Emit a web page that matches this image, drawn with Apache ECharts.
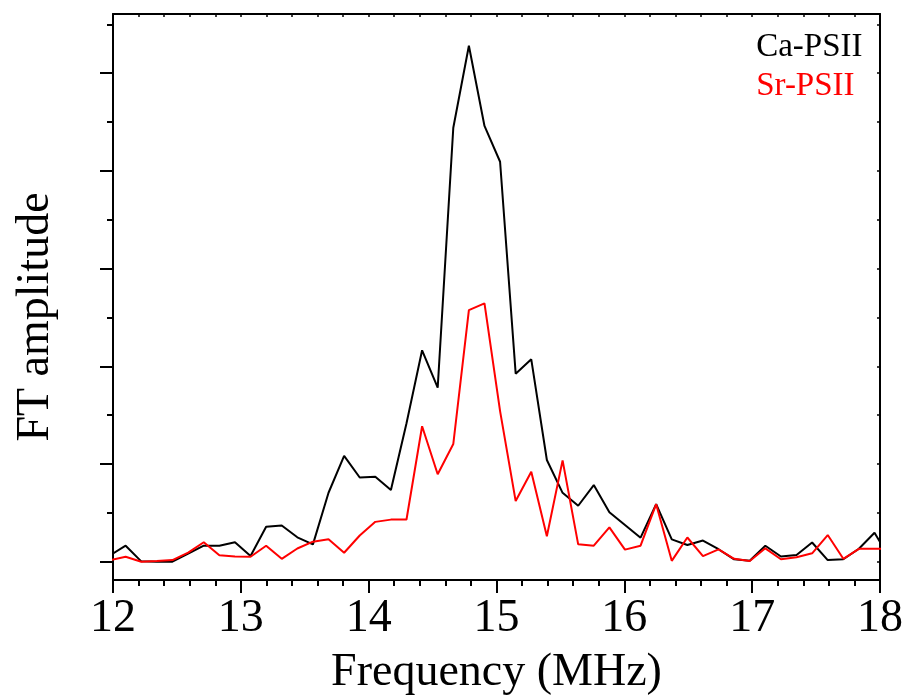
<!DOCTYPE html>
<html>
<head>
<meta charset="utf-8">
<script src="https://cdn.jsdelivr.net/npm/echarts@6/dist/echarts.min.js"></script>
<style>html,body{margin:0;padding:0;background:#fff;}#c{width:908px;height:697px;}</style>
</head>
<body>
<div id="c"></div>
<script>
// Frequency points (MHz)
const freq = [11.977, 12.099, 12.221, 12.343, 12.465, 12.588, 12.710, 12.832, 12.954, 13.076,
  13.198, 13.320, 13.442, 13.564, 13.686, 13.808, 13.930, 14.052, 14.174, 14.296,
  14.418, 14.540, 14.662, 14.784, 14.906, 15.028, 15.150, 15.272, 15.394, 15.517,
  15.639, 15.761, 15.883, 16.005, 16.127, 16.249, 16.371, 16.493, 16.615, 16.737,
  16.859, 16.981, 17.103, 17.225, 17.347, 17.469, 17.591, 17.713, 17.835, 17.957, 18.079];
// FT amplitude (arbitrary units)
const caPSII = [0.066, 0.164, 0.004, 0.000, 0.000, 0.082, 0.164, 0.164, 0.199, 0.058,
  0.358, 0.371, 0.250, 0.178, 0.706, 1.084, 0.862, 0.869, 0.734, 1.417,
  2.164, 1.781, 4.442, 5.281, 4.460, 4.094, 1.925, 2.072, 1.041, 0.705,
  0.573, 0.785, 0.506, 0.376, 0.246, 0.589, 0.229, 0.171, 0.217, 0.128,
  0.025, 0.010, 0.164, 0.053, 0.069, 0.197, 0.017, 0.025, 0.133, 0.297, 0.028];
const srPSII = [0.017, 0.051, 0.000, 0.007, 0.017, 0.094, 0.199, 0.067, 0.053, 0.051,
  0.164, 0.030, 0.135, 0.205, 0.229, 0.092, 0.268, 0.408, 0.431, 0.432,
  1.387, 0.896, 1.205, 2.576, 2.645, 1.542, 0.621, 0.921, 0.260, 1.037,
  0.178, 0.164, 0.352, 0.124, 0.164, 0.589, 0.009, 0.248, 0.058, 0.127,
  0.030, 0.007, 0.137, 0.025, 0.046, 0.086, 0.273, 0.030, 0.132, 0.133, 0.133];
const seriesNames = ['Ca-PSII', 'Sr-PSII'];
const xTickLabels = ['12', '13', '14', '15', '16', '17', '18'];
const yMajorTicks = [0, 1, 2, 3, 4, 5];
const yMinorTicks = [0.5, 1.5, 2.5, 3.5, 4.5, 5.5];
const yAllTicks = [0, 0.5, 1, 1.5, 2, 2.5, 3, 3.5, 4, 4.5, 5, 5.5];

const FONT = '"Liberation Serif", "Times New Roman", serif';
const Y_MIN = -0.187, Y_MAX = 5.606;
const lineStyleAxis = { color: '#000', width: 2 };

const chart = echarts.init(document.getElementById('c'), null, { renderer: 'canvas' });
chart.setOption({
  backgroundColor: '#fff',
  animation: false,
  grid: { left: 113, right: 28, top: 14, bottom: 117, containLabel: false, outerBoundsMode: 'none' },
  legend: {
    data: [
      { name: seriesNames[0], textStyle: { color: '#000' } },
      { name: seriesNames[1], textStyle: { color: '#ff0000' } }
    ],
    orient: 'vertical',
    left: 737, top: 31, padding: 0,
    itemWidth: 0, itemHeight: 33, itemGap: 6,
    itemStyle: { opacity: 0 }, lineStyle: { opacity: 0 },
    textStyle: { fontFamily: FONT, fontSize: 33 },
    selectedMode: false
  },
  xAxis: [
    {
      type: 'value', position: 'bottom', min: 12, max: 18, interval: 1,
      name: 'Frequency (MHz)', nameLocation: 'middle', nameGap: 70,
      nameTextStyle: { fontFamily: FONT, fontSize: 46, color: '#000' },
      axisLine: { show: true, onZero: false, lineStyle: lineStyleAxis },
      axisTick: { show: true, inside: false, length: 13, lineStyle: { color: '#000', width: 2 } },
      minorTick: { show: true, splitNumber: 5, length: 6, lineStyle: { color: '#000', width: 2 } },
      axisLabel: { show: true, margin: 16, fontFamily: FONT, fontSize: 46, color: '#000',
        formatter: function (v) { return xTickLabels[Math.round(v - 12)] || ''; } },
      splitLine: { show: false }
    },
    {
      type: 'value', position: 'top', min: 12, max: 18, interval: 0.2,
      axisLine: { show: true, onZero: false, lineStyle: lineStyleAxis },
      axisTick: { show: true, inside: true, length: 3, lineStyle: { color: '#000', width: 1.5 } },
      axisLabel: { show: false }, splitLine: { show: false }
    }
  ],
  yAxis: [
    {
      type: 'value', position: 'left', min: Y_MIN, max: Y_MAX,
      name: 'FT amplitude', nameLocation: 'middle', nameGap: 54, nameRotate: 90,
      nameTextStyle: { fontFamily: FONT, fontSize: 46, color: '#000', padding: [0, 40, 0, 0] },
      axisLine: { show: true, onZero: false, lineStyle: lineStyleAxis },
      axisTick: { show: true, inside: false, length: 13, customValues: yMajorTicks, lineStyle: { color: '#000', width: 2 } },
      axisLabel: { show: false }, splitLine: { show: false }
    },
    {
      type: 'value', position: 'left', min: Y_MIN, max: Y_MAX,
      axisLine: { show: false, onZero: false },
      axisTick: { show: true, inside: false, length: 6, customValues: yMinorTicks, lineStyle: { color: '#000', width: 2 } },
      axisLabel: { show: false }, splitLine: { show: false }
    },
    {
      type: 'value', position: 'right', min: Y_MIN, max: Y_MAX,
      axisLine: { show: true, onZero: false, lineStyle: lineStyleAxis },
      axisTick: { show: true, inside: true, length: 3, customValues: yAllTicks, lineStyle: { color: '#000', width: 1.5 } },
      axisLabel: { show: false }, splitLine: { show: false }
    }
  ],
  series: [
    {
      name: seriesNames[0], type: 'line', xAxisIndex: 0, yAxisIndex: 0,
      data: freq.map((f, i) => [f, caPSII[i]]),
      showSymbol: false, clip: true,
      lineStyle: { color: '#000', width: 2 }, itemStyle: { color: '#000' }
    },
    {
      name: seriesNames[1], type: 'line', xAxisIndex: 0, yAxisIndex: 0,
      data: freq.map((f, i) => [f, srPSII[i]]),
      showSymbol: false, clip: true,
      lineStyle: { color: '#ff0000', width: 2 }, itemStyle: { color: '#ff0000' }
    }
  ]
});
</script>
</body>
</html>
